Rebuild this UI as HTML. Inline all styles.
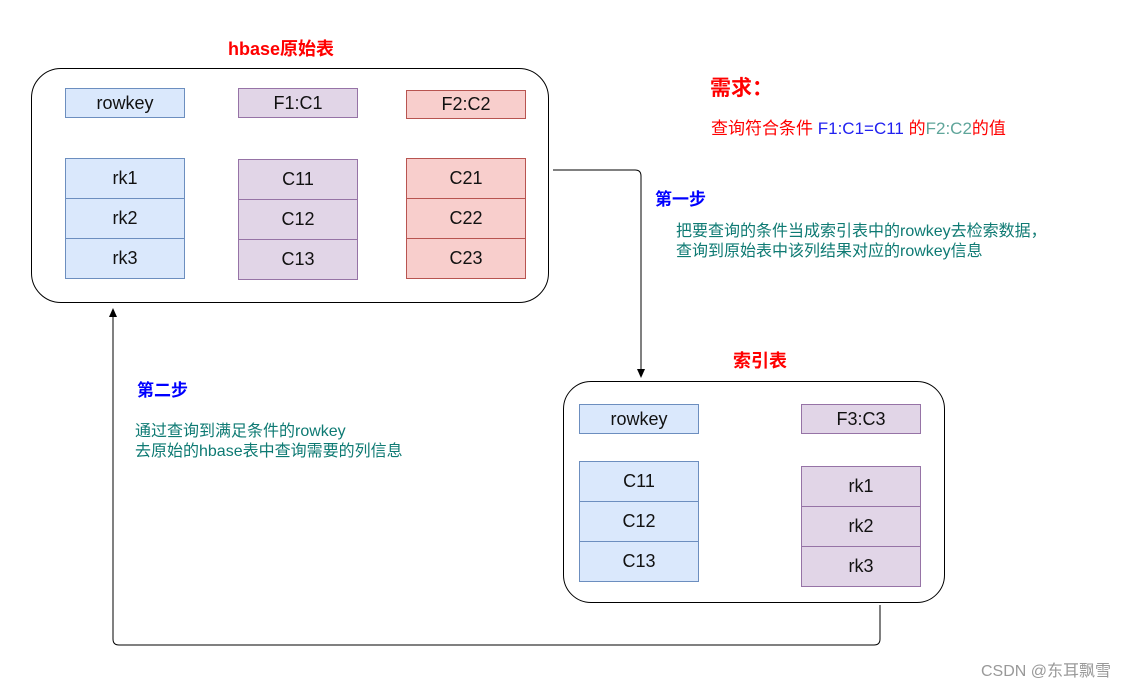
<!DOCTYPE html>
<html><head><meta charset="utf-8"><style>
body{margin:0;width:1132px;height:685px;background:#fff;position:relative;overflow:hidden;font-family:"Liberation Sans","Noto Sans CJK SC",sans-serif}
.a{position:absolute}
.c{position:absolute;box-sizing:border-box;display:flex;align-items:center;justify-content:center;font-size:18px;color:#111;border:1px solid}
.b{background:#dae8fc;border-color:#6c8ebf}
.p{background:#e1d5e7;border-color:#9673a6}
.r{background:#f8cecc;border-color:#b85450}
.box{position:absolute;box-sizing:border-box;border:1px solid #000;border-radius:30px}
.t{color:#0e7a73;font-size:16px;line-height:20px}
</style></head><body>
<div class="box" style="left:31px;top:68px;width:518px;height:235px"></div>
<div class="box" style="left:563px;top:381px;width:382px;height:222px;border-radius:28px"></div>

<div class="c b" style="left:65px;top:88px;width:120px;height:30px">rowkey</div>
<div class="c p" style="left:238px;top:88px;width:120px;height:30px">F1:C1</div>
<div class="c r" style="left:406px;top:90px;width:120px;height:29px">F2:C2</div>

<div class="c b" style="left:65px;top:158px;width:120px;height:41px">rk1</div>
<div class="c b" style="left:65px;top:198px;width:120px;height:41px">rk2</div>
<div class="c b" style="left:65px;top:238px;width:120px;height:41px">rk3</div>
<div class="c p" style="left:238px;top:159px;width:120px;height:41px">C11</div>
<div class="c p" style="left:238px;top:199px;width:120px;height:41px">C12</div>
<div class="c p" style="left:238px;top:239px;width:120px;height:41px">C13</div>
<div class="c r" style="left:406px;top:158px;width:120px;height:41px">C21</div>
<div class="c r" style="left:406px;top:198px;width:120px;height:41px">C22</div>
<div class="c r" style="left:406px;top:238px;width:120px;height:41px">C23</div>

<div class="c b" style="left:579px;top:404px;width:120px;height:30px">rowkey</div>
<div class="c p" style="left:801px;top:404px;width:120px;height:30px">F3:C3</div>
<div class="c b" style="left:579px;top:461px;width:120px;height:41px">C11</div>
<div class="c b" style="left:579px;top:501px;width:120px;height:41px">C12</div>
<div class="c b" style="left:579px;top:541px;width:120px;height:41px">C13</div>
<div class="c p" style="left:801px;top:466px;width:120px;height:41px">rk1</div>
<div class="c p" style="left:801px;top:506px;width:120px;height:41px">rk2</div>
<div class="c p" style="left:801px;top:546px;width:120px;height:41px">rk3</div>

<svg class="a" style="left:0;top:0" width="1132" height="685">
<path d="M553 170 H635 Q641 170 641 176 V370" fill="none" stroke="#000" stroke-width="1"/>
<path d="M637 369 L641 378 L645 369 Z" fill="#000"/>
<path d="M880 605 V639 Q880 645 874 645 H119 Q113 645 113 639 V316" fill="none" stroke="#000" stroke-width="1"/>
<path d="M109 317 L113 308 L117 317 Z" fill="#000"/>
</svg>

<div class="a" style="left:228px;top:35px;font-size:18px;font-weight:bold;color:#f00">hbase原始表</div>
<div class="a" style="left:733px;top:347px;font-size:18px;font-weight:bold;color:#f00">索引表</div>
<div class="a" style="left:710px;top:72px;font-size:21px;font-weight:bold;color:#f00">需求：</div>
<div class="a" style="left:711px;top:114px;font-size:17px;color:#f00;white-space:nowrap">查询符合条件 <span style="color:#2121f0">F1:C1=C11</span> 的<span style="color:#5fa59a">F2:C2</span>的值</div>
<div class="a" style="left:655px;top:185px;font-size:17px;font-weight:bold;color:#00f">第一步</div>
<div class="a t" style="left:676px;top:222px;white-space:nowrap">把要查询的条件当成索引表中的rowkey去检索数据，<br>查询到原始表中该列结果对应的rowkey信息</div>
<div class="a" style="left:137px;top:376px;font-size:17px;font-weight:bold;color:#00f">第二步</div>
<div class="a t" style="left:135px;top:422px;white-space:nowrap">通过查询到满足条件的rowkey<br>去原始的hbase表中查询需要的列信息</div>
<div class="a" style="left:981px;top:657px;font-size:16px;color:#999;white-space:nowrap">CSDN @东耳飘雪</div>
</body></html>
